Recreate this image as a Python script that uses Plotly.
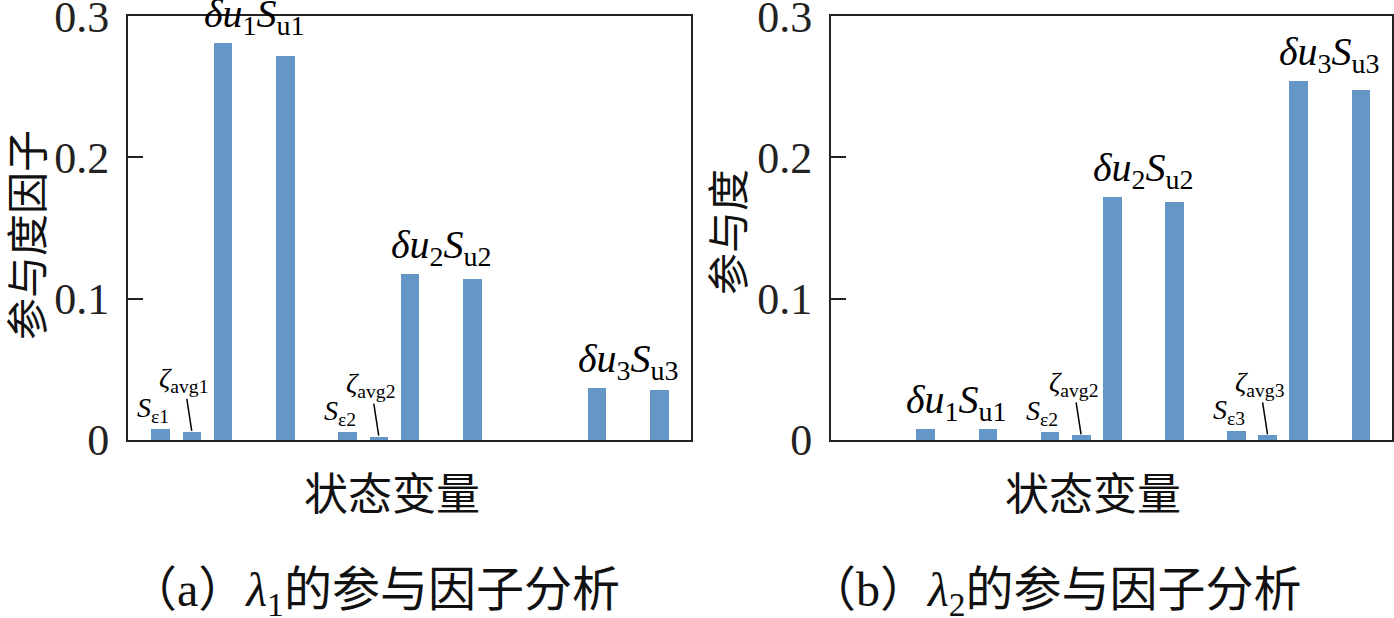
import plotly.graph_objects as go

# ---------------- data ----------------
var_names = ["Sε1", "ζavg1", "δu1", "Su1",
             "Sε2", "ζavg2", "δu2", "Su2",
             "Sε3", "ζavg3", "δu3", "Su3"]
slot_in_group = [0, 1, 2, 4]      # position of the 4 variables inside a 6-slot group
group_stride = 6

values_a = [0.0076, 0.0057, 0.281, 0.272,
            0.0057, 0.0024, 0.1175, 0.114,
            0.0, 0.0, 0.0368, 0.0354]
values_b = [0.0, 0.0, 0.008, 0.008,
            0.0055, 0.0033, 0.172, 0.1684,
            0.0064, 0.0033, 0.254, 0.2477]

ytick_vals = [0, 0.1, 0.2, 0.3]
ytick_text = ["0", "0.1", "0.2", "0.3"]

ytitle_a = "参与度因子"
ytitle_b = "参与度"
xtitle = "状态变量"
caption_a = "（a）<i>λ</i><sub>1</sub>的参与因子分析"
caption_b = "（b）<i>λ</i><sub>2</sub>的参与因子分析"

# ---------------- layout helpers ----------------
W, H = 1394, 618
positions = [g * group_stride + s for g in range(3) for s in slot_in_group]

BAR = "#6497c8"
SERIF = "Liberation Serif, Times New Roman, serif"
CJK = "Noto Sans CJK SC"
MIXED = "Liberation Serif, Noto Sans CJK SC"


def px(x):
    return x / W


def py(y):
    return 1 - y / H


fig = go.Figure()
fig.add_trace(go.Bar(x=positions, y=values_a, width=0.6, marker_color=BAR,
                     marker_line_width=0, xaxis="x", yaxis="y",
                     hovertext=var_names, showlegend=False))
fig.add_trace(go.Bar(x=positions, y=values_b, width=0.6, marker_color=BAR,
                     marker_line_width=0, xaxis="x2", yaxis="y2",
                     hovertext=var_names, showlegend=False))

xr = [-1.05, 17]
axis_common_x = dict(range=xr, showticklabels=False, ticks="", showgrid=False,
                     zeroline=False, showline=True, linecolor="#222",
                     linewidth=2, mirror=True, automargin=False)
axis_common_y = dict(range=[0, 0.3001], tickvals=ytick_vals, ticktext=ytick_text,
                     ticks="inside", ticklen=15, tickwidth=2, tickcolor="#222",
                     showgrid=False, zeroline=False, showline=True,
                     linecolor="#222", linewidth=2, mirror=True,
                     ticklabelstandoff=8, ticklabeloverflow="allow",
                     automargin=False,
                     tickfont=dict(family=SERIF, size=44, color="#222"))

ydom = [py(440), py(16)]
fig.update_layout(
    width=W, height=H,
    margin=dict(l=0, r=0, t=0, b=0),
    paper_bgcolor="white", plot_bgcolor="white",
    bargap=0,
    xaxis=dict(domain=[px(128), px(690.5)], anchor="y", **axis_common_x),
    yaxis=dict(domain=ydom, anchor="x", **axis_common_y),
    xaxis2=dict(domain=[px(831), px(1392)], anchor="y2", **axis_common_x),
    yaxis2=dict(domain=ydom, anchor="x2", **axis_common_y),
)

annotations = []


def add_labels(values, xref, yref, small_groups):
    for g in range(3):
        i_du = g * 4 + 2
        i_su = g * 4 + 3
        xc = (positions[i_du] + positions[i_su]) / 2
        yt = max(values[i_du], values[i_su])
        annotations.append(dict(
            x=xc, y=yt, xref=xref, yref=yref, xanchor="center", yanchor="bottom",
            showarrow=False, yshift=0,
            text=f"<i>δu</i><sub>{g+1}</sub><i>S</i><sub>u{g+1}</sub>",
            font=dict(family=SERIF, size=40, color="black")))
        if g in small_groups:
            i_se = g * 4
            i_z = g * 4 + 1
            annotations.append(dict(
                x=positions[i_se], y=values[i_se], xref=xref, yref=yref,
                xanchor="center", yanchor="bottom", showarrow=False,
                xshift=-8, yshift=0,
                text=f"<i>S</i><sub>ε{g+1}</sub>",
                font=dict(family=SERIF, size=28, color="black")))
            annotations.append(dict(
                x=positions[i_z], y=values[i_z], xref=xref, yref=yref,
                showarrow=True, arrowhead=0, arrowwidth=1.5, arrowcolor="black",
                ax=-8, ay=-52, standoff=1,
                text=f"<i>ζ</i><sub>avg{g+1}</sub>",
                font=dict(family=SERIF, size=28, color="black")))


add_labels(values_a, "x", "y", [0, 1])
add_labels(values_b, "x2", "y2", [1, 2])

paper = dict(xref="paper", yref="paper", xanchor="center", yanchor="middle",
             showarrow=False)
annotations += [
    dict(x=px(24), y=py(235), text=ytitle_a, textangle=-90,
         font=dict(family=CJK, size=42, color="#111"), **paper),
    dict(x=px(725), y=py(232), text=ytitle_b, textangle=-90,
         font=dict(family=CJK, size=42, color="#111"), **paper),
    dict(x=px(392), y=py(491), text=xtitle,
         font=dict(family=CJK, size=44, color="#111"), **paper),
    dict(x=px(1093), y=py(491), text=xtitle,
         font=dict(family=CJK, size=44, color="#111"), **paper),
    dict(x=px(375), y=py(593), text=caption_a,
         font=dict(family=MIXED, size=48, color="#111"), **paper),
    dict(x=px(1055), y=py(593), text=caption_b,
         font=dict(family=MIXED, size=48, color="#111"), **paper),
]
fig.update_layout(annotations=annotations)

fig.write_html("out.html")
